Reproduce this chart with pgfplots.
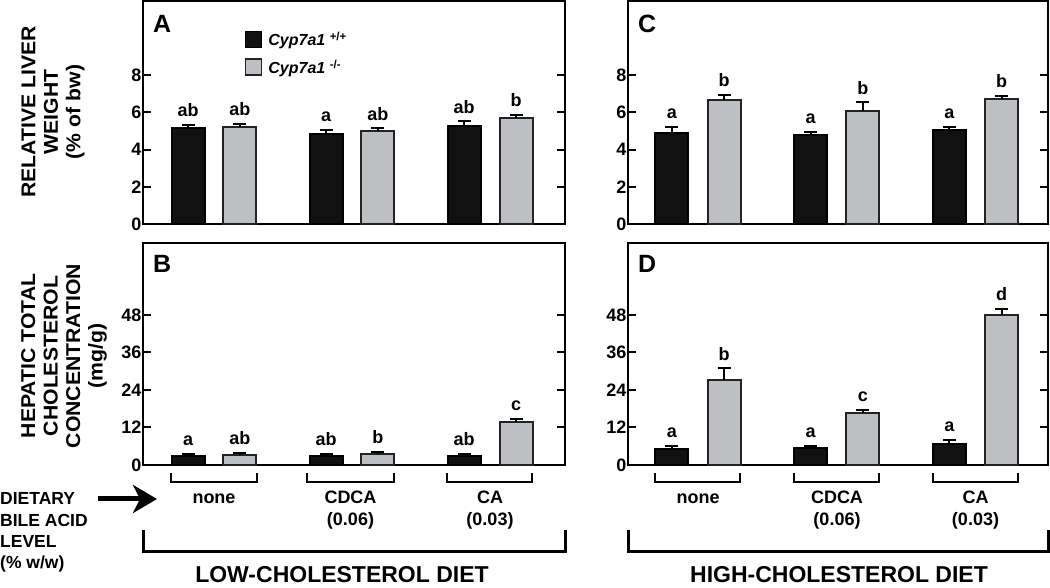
\documentclass[border=0pt]{standalone}
\usepackage{fontspec}
\setmainfont{Liberation Sans}
\newfontfamily\widefont[FakeStretch=1.06]{Liberation Sans}
\usepackage{pgfplots}
\usepackage{pgfplotstable}
\pgfplotsset{compat=1.18}
\usetikzlibrary{arrows.meta}
\definecolor{barblack}{RGB}{17,17,17}
\definecolor{bargray}{RGB}{190,191,195}
\definecolor{edge}{RGB}{35,35,35}

% x: group 1,2,3 (none, CDCA, CA); wild type left of centre, knockout right
% Panel A: relative liver weight, low-cholesterol diet
\pgfplotstableread{
x y e lab
0.812 5.16 0.18 ab
1.812 4.86 0.18 a
2.812 5.30 0.22 ab
}\Awt
\pgfplotstableread{
x y e lab
1.188 5.21 0.18 ab
2.188 4.98 0.16 ab
3.188 5.70 0.18 b
}\Ako
% Panel C: relative liver weight, high-cholesterol diet
\pgfplotstableread{
x y e lab
0.812 4.91 0.30 a
1.812 4.77 0.18 a
2.812 5.04 0.19 a
}\Cwt
\pgfplotstableread{
x y e lab
1.188 6.66 0.29 b
2.188 6.07 0.47 b
3.188 6.70 0.19 b
}\Cko
% Panel B: hepatic cholesterol, low-cholesterol diet
\pgfplotstableread{
x y e lab
0.812 2.77 0.75 a
1.812 2.77 0.64 ab
2.812 2.88 0.75 ab
}\Bwt
\pgfplotstableread{
x y e lab
1.188 3.09 0.86 ab
2.188 3.52 0.75 b
3.188 13.87 0.73 c
}\Bko
% Panel D: hepatic cholesterol, high-cholesterol diet
\pgfplotstableread{
x y e lab
0.812 5.23 0.96 a
1.812 5.33 0.75 a
2.812 6.72 1.38 a
}\Dwt
\pgfplotstableread{
x y e lab
1.188 27.2 3.7 b
2.188 16.75 0.95 c
3.188 48.0 1.8 d
}\Dko

\pgfplotsset{
  panel/.style={
    scale only axis, anchor=south west,
    axis line style={line width=2pt},
    major tick style={line width=2pt, black},
    tick align=inside, major tick length=8pt,
    xtick=\empty, ymin=0,
    yticklabel pos=left, ytick pos=both,
    /pgf/number format/assume math mode=true,
    yticklabel style={font=\bfseries\fontsize{18}{18}\selectfont, inner sep=1.5pt},
    clip=false,
  },
  wtbar/.style={ybar, bar width=33pt, bar shift=0pt, fill=barblack, draw=black, line width=2pt,
    legend image code/.code={\draw[fill=barblack, draw=black, line width=1.2pt] (0pt,-8pt) rectangle (16pt,8pt);},
    error bars/.cd, y dir=plus, y explicit,
    error bar style={line width=2pt, black},
    error mark options={rotate=90, mark size=6.5pt, line width=2pt, black}},
  kobar/.style={ybar, bar width=33pt, bar shift=0pt, fill=bargray, draw=edge, line width=2pt,
    legend image code/.code={\draw[fill=bargray, draw=edge, line width=1.2pt] (0pt,-8pt) rectangle (16pt,8pt);},
    error bars/.cd, y dir=plus, y explicit,
    error bar style={line width=2pt, black},
    error mark options={rotate=90, mark size=6.5pt, line width=2pt, black}},
  letters/.style={draw=none, mark=none, forget plot, nodes near coords, point meta=explicit symbolic,
    nodes near coords style={font=\bfseries\fontsize{18}{18}\selectfont, inner sep=0pt, anchor=south, yshift=8pt, black}},
}

\begin{document}
\begin{tikzpicture}[x=1pt,y=1pt]
\path[use as bounding box] (0,0) rectangle (1050,588);

% ---- Panel A ----
\begin{axis}[panel, at={(143pt,364pt)}, width=422pt, height=223pt,
  xmin=0.4855, xmax=3.543, ymax=12, ytick={0,2,4,6,8},
  legend style={at={(0.2417,0.865)}, anchor=north west, draw=none, fill=none,
    font=\bfseries\itshape\fontsize{16}{16}\selectfont, row sep=10pt, inner sep=0pt,
    nodes={inner sep=0pt}, column sep=6pt},
  legend cell align=left]
\addplot[wtbar] table[x=x, y=y, y error=e] {\Awt};
\addlegendentry{Cyp7a1 \raisebox{5pt}{\upshape\fontsize{11.5}{11.5}\selectfont +/+}}
\addplot[kobar] table[x=x, y=y, y error=e] {\Ako};
\addlegendentry{Cyp7a1 \raisebox{5pt}{\upshape\fontsize{11.5}{11.5}\selectfont -/-}}
\addplot[letters] table[x=x, y expr=\thisrow{y}+\thisrow{e}, meta=lab] {\Awt};
\addplot[letters] table[x=x, y expr=\thisrow{y}+\thisrow{e}, meta=lab] {\Ako};
\end{axis}

% ---- Panel C ----
\begin{axis}[panel, at={(628pt,364pt)}, width=420pt, height=223pt,
  xmin=0.4955, xmax=3.5225, ymax=12, ytick={0,2,4,6,8}]
\addplot[wtbar] table[x=x, y=y, y error=e] {\Cwt};
\addplot[kobar] table[x=x, y=y, y error=e] {\Cko};
\addplot[letters] table[x=x, y expr=\thisrow{y}+\thisrow{e}, meta=lab] {\Cwt};
\addplot[letters] table[x=x, y expr=\thisrow{y}+\thisrow{e}, meta=lab] {\Cko};
\end{axis}

% ---- Panel B ----
\begin{axis}[panel, at={(143pt,123pt)}, width=422pt, height=222pt,
  xmin=0.4855, xmax=3.543, ymax=71, ytick={0,12,24,36,48}]
\addplot[wtbar] table[x=x, y=y, y error=e] {\Bwt};
\addplot[kobar] table[x=x, y=y, y error=e] {\Bko};
\addplot[letters] table[x=x, y expr=\thisrow{y}+\thisrow{e}, meta=lab] {\Bwt};
\addplot[letters] table[x=x, y expr=\thisrow{y}+\thisrow{e}, meta=lab] {\Bko};
\end{axis}

% ---- Panel D ----
\begin{axis}[panel, at={(628pt,123pt)}, width=420pt, height=222pt,
  xmin=0.4955, xmax=3.5225, ymax=71, ytick={0,12,24,36,48}]
\addplot[wtbar] table[x=x, y=y, y error=e] {\Dwt};
\addplot[kobar] table[x=x, y=y, y error=e] {\Dko};
\addplot[letters] table[x=x, y expr=\thisrow{y}+\thisrow{e}, meta=lab] {\Dwt};
\addplot[letters] table[x=x, y expr=\thisrow{y}+\thisrow{e}, meta=lab] {\Dko};
\end{axis}

% Panel letters
\begin{scope}[every node/.style={font=\bfseries\fontsize{25}{25}\selectfont, inner sep=0pt, anchor=base west}]
\node at (153,555) {A};
\node at (638,555) {C};
\node at (153,315) {B};
\node at (638,315) {D};
\end{scope}

% Y-axis titles
\node[rotate=90, align=center, font=\widefont\bfseries\fontsize{20}{22.5}\selectfont] at (53,476) {RELATIVE LIVER\\WEIGHT\\(\% of bw)};
\node[rotate=90, align=center, font=\widefont\bfseries\fontsize{20}{22.5}\selectfont] at (64,232) {HEPATIC TOTAL\\CHOLESTEROL\\CONCENTRATION\\(mg/g)};

% Group brackets
\begin{scope}[line width=2pt]
\foreach \a/\b in {171/257, 307/394, 447/532, 655/740, 794/879, 933/1018}{
  \draw (\a,115) -- (\a,106) -- (\b,106) -- (\b,115);
}
\end{scope}
\begin{scope}[every node/.style={font=\bfseries\fontsize{18}{18}\selectfont, inner sep=0pt, anchor=base}]
\node at (214,84) {none};
\node at (350.5,84) {CDCA};
\node at (350.5,62) {(0.06)};
\node at (490,84) {CA};
\node at (490,62) {(0.03)};
\node at (698,84) {none};
\node at (837,84) {CDCA};
\node at (837,62) {(0.06)};
\node at (975.5,84) {CA};
\node at (975.5,62) {(0.03)};
\end{scope}

% Diet brackets
\begin{scope}[line width=3pt]
\draw (143,58) -- (143,36) -- (565,36) -- (565,58);
\draw (628,58) -- (628,36) -- (1048,36) -- (1048,58);
\end{scope}
\node[font=\bfseries\fontsize{23}{23}\selectfont, inner sep=0pt, anchor=base] at (342,5) {LOW-CHOLESTEROL DIET};
\node[font=\bfseries\fontsize{23}{23}\selectfont, inner sep=0pt, anchor=base] at (839,5) {HIGH-CHOLESTEROL DIET};

% Dietary bile acid level label and arrow
\begin{scope}[every node/.style={font=\bfseries\fontsize{17.5}{17.5}\selectfont, inner sep=0pt, anchor=base west}]
\node at (0,83) {DIETARY};
\node at (0,61) {BILE ACID};
\node at (0,40) {LEVEL};
\node at (0,19) {(\% w/w)};
\end{scope}
\draw[line width=5pt, -{Stealth[length=24pt, width=28pt, inset=7pt]}] (98,89) -- (157,89);

\end{tikzpicture}
\end{document}
